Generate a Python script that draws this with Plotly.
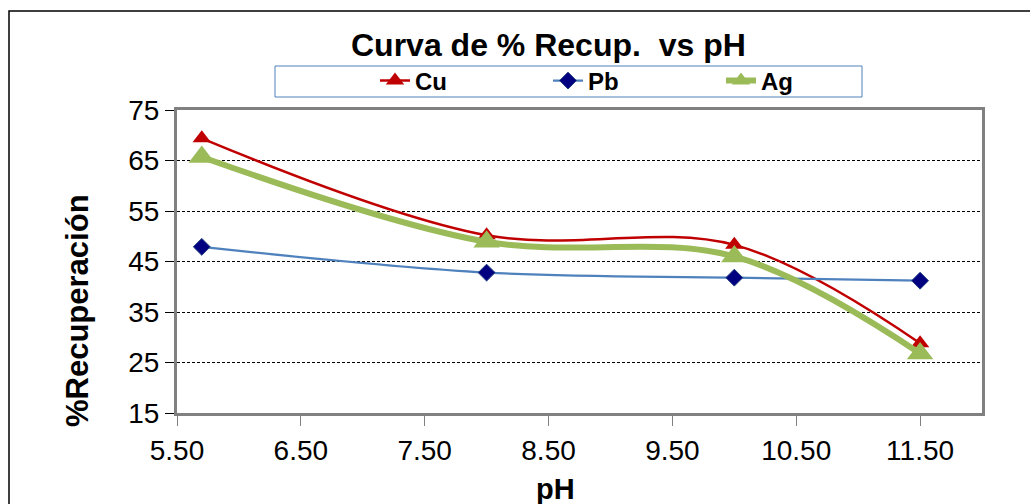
import plotly.graph_objects as go

ph = [5.7, 8.0, 10.0, 11.5]
cu = [69.4, 50.2, 48.3, 28.8]
pb = [47.9, 42.8, 41.8, 41.2]
ag = [65.7, 48.9, 46.0, 26.8]

x_ticks = [5.5, 6.5, 7.5, 8.5, 9.5, 10.5, 11.5]
y_ticks = [15, 25, 35, 45, 55, 65, 75]

FONT = "Liberation Sans, Arial, sans-serif"

fig = go.Figure()
fig.add_trace(go.Scatter(
    x=ph, y=cu, name="<b>Cu</b>", mode="lines+markers",
    line=dict(color="#C00000", width=2.5, shape="spline", smoothing=1),
    marker=dict(symbol="triangle-up", size=16, color="#C00000"),
))
fig.add_trace(go.Scatter(
    x=ph, y=pb, name="<b>Pb</b>", mode="lines+markers",
    line=dict(color="#4F81BD", width=2.2, shape="spline", smoothing=1),
    marker=dict(symbol="diamond", size=13, color="#000080",
                line=dict(color="#1F3F7F", width=1)),
))
fig.add_trace(go.Scatter(
    x=ph, y=ag, name="<b>Ag</b>", mode="lines+markers",
    line=dict(color="#9BBB59", width=6, shape="spline", smoothing=1),
    marker=dict(symbol="triangle-up", size=23, color="#9BBB59"),
))

L, R, T, B = 177, 48, 110, 91
W, H = 1030, 504
pw, ph_ = W - L - R, H - T - B

def px(x):
    return (x - L) / pw

def py(y):
    return (H - B - y) / ph_

fig.update_layout(
    width=W, height=H,
    margin=dict(l=L, r=R, t=T, b=B, autoexpand=False),
    paper_bgcolor="white", plot_bgcolor="white",
    font=dict(family=FONT, color="black"),
    showlegend=True,
    legend=dict(
        orientation="h", x=px(375), xanchor="left", y=py(81), yanchor="middle",
        entrywidth=128, entrywidthmode="pixels",
        font=dict(family=FONT, size=24, color="black"),
        bgcolor="rgba(0,0,0,0)", borderwidth=0,
    ),
    xaxis=dict(
        range=[5.5, 12.0], tickvals=x_ticks, tickformat=".2f",
        ticks="outside", ticklen=10, tickcolor="#808080", tickwidth=1,
        showline=True, linecolor="#808080", linewidth=3, mirror=True,
        showgrid=False, zeroline=False,
        tickfont=dict(family=FONT, size=28, color="black"),
    ),
    yaxis=dict(
        range=[15, 75], tickvals=y_ticks,
        ticks="outside", ticklen=9, tickcolor="black", tickwidth=1,
        showline=True, linecolor="#808080", linewidth=3, mirror=True,
        showgrid=True, gridcolor="black", gridwidth=1, griddash="3px,2px",
        zeroline=False,
        tickfont=dict(family=FONT, size=28, color="black"),
    ),
    shapes=[
        dict(type="rect", xref="paper", yref="paper",
             x0=px(275), x1=px(862), y0=py(97), y1=py(66),
             line=dict(color="#4F81BD", width=1), fillcolor="rgba(0,0,0,0)",
             layer="below"),
        dict(type="rect", xref="paper", yref="paper",
             x0=px(9), x1=px(1060), y0=py(540), y1=py(11),
             line=dict(color="black", width=1.5), fillcolor="rgba(0,0,0,0)",
             layer="below"),
    ],
    annotations=[
        dict(text="<b>Curva de % Recup.  vs pH</b>", xref="paper", yref="paper",
             x=px(548), y=py(45), xanchor="center", yanchor="middle",
             showarrow=False, font=dict(family=FONT, size=32, color="black")),
        dict(text="<b>%Recuperación</b>", xref="paper", yref="paper",
             x=px(77), y=py(311), xanchor="center", yanchor="middle", textangle=-90,
             showarrow=False, font=dict(family=FONT, size=31, color="black")),
        dict(text="<b>pH</b>", xref="paper", yref="paper",
             x=px(555), y=py(489), xanchor="center", yanchor="middle",
             showarrow=False, font=dict(family=FONT, size=29, color="black")),
    ],
)

fig.write_html("out.html")
